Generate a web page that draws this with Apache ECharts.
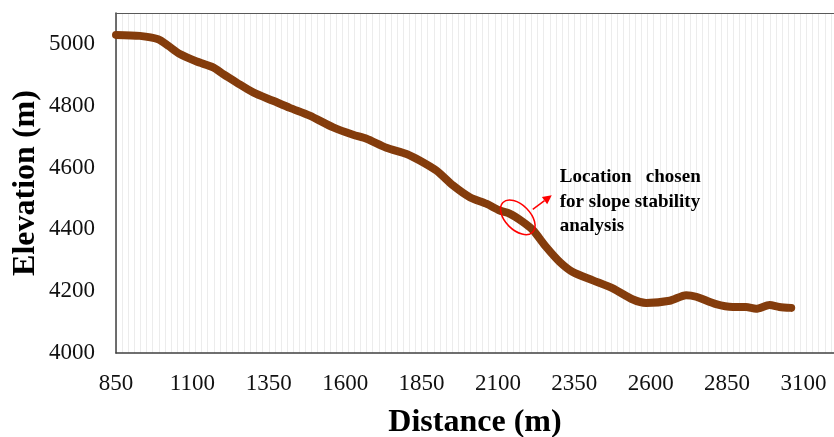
<!DOCTYPE html>
<html>
<head>
<meta charset="utf-8">
<script src="https://cdn.jsdelivr.net/npm/echarts@6/dist/echarts.min.js"></script>
<style>
html,body{margin:0;padding:0;background:#fff;}
#chart{width:834px;height:437px;}
</style>
</head>
<body>
<div id="chart"></div>
<script>
// Data
const distance = [850, 928, 988, 1021, 1059, 1114, 1168, 1201, 1245, 1299, 1364, 1419, 1484, 1561, 1626, 1670, 1735, 1801, 1844, 1899, 1953, 2008, 2062, 2106, 2138, 2182, 2215, 2258, 2302, 2345, 2411, 2476, 2542, 2585, 2662, 2716, 2749, 2814, 2869, 2912, 2945, 2989, 3021, 3060];
const elevation = [5029, 5026, 5015, 4994, 4967, 4943, 4924, 4902, 4875, 4843, 4816, 4793, 4768, 4730, 4706, 4693, 4664, 4644, 4623, 4590, 4542, 4504, 4483, 4461, 4451, 4424, 4397, 4343, 4295, 4262, 4235, 4209, 4173, 4162, 4169, 4187, 4182, 4158, 4149, 4149, 4143, 4155, 4149, 4146];
const xTickLabels = ['850', '1100', '1350', '1600', '1850', '2100', '2350', '2600', '2850', '3100'];
const yTickLabels = ['4000', '4200', '4400', '4600', '4800', '5000'];
const annotationLines = ['Location   chosen', 'for slope stability', 'analysis'];
const chosenPoint = [2165, 4439];

const chart = echarts.init(document.getElementById('chart'));
const serif = '"Liberation Serif", "Times New Roman", serif';
const xMin = Number(xTickLabels[0]);
const yMin = Number(yTickLabels[0]);

chart.setOption({
  animation: false,
  backgroundColor: '#fff',
  grid: { left: 116, right: 0, top: 13, bottom: 84, containLabel: false, outerBoundsMode: 'none' },
  xAxis: [
    {
      type: 'value', min: xMin, max: 3200, interval: 250,
      name: 'Distance (m)', nameLocation: 'middle', nameGap: 54, nameMoveOverlap: false,
      nameTextStyle: { fontFamily: serif, fontWeight: 'bold', fontSize: 32, color: '#000' },
      axisLine: { show: true, onZero: false, lineStyle: { color: '#404040', width: 1.5 } },
      axisTick: { show: false },
      splitLine: { show: false },
      axisLabel: { fontFamily: serif, fontSize: 23, color: '#111', margin: 19, showMaxLabel: false,
        formatter: v => xTickLabels.includes(String(v)) ? String(v) : '' }
    },
    {
      type: 'value', position: 'top', min: xMin, max: 3200, interval: 20,
      axisLine: { show: true, onZero: false, lineStyle: { color: '#595959', width: 1.2 } },
      axisTick: { show: false }, axisLabel: { show: false },
      splitLine: { show: true, lineStyle: { color: '#ececec', width: 1 } }
    }
  ],
  yAxis: {
    type: 'value', min: yMin, max: 5100, interval: 200,
    name: 'Elevation (m)', nameLocation: 'middle', nameGap: 74, nameRotate: 90, nameMoveOverlap: false,
    nameTextStyle: { fontFamily: serif, fontWeight: 'bold', fontSize: 32, color: '#000' },
    axisLine: { show: true, onZero: false, lineStyle: { color: '#404040', width: 1.5 } },
    axisTick: { show: false },
    splitLine: { show: false },
    axisLabel: { fontFamily: serif, fontSize: 23, color: '#111', margin: 21, showMaxLabel: false,
      formatter: v => yTickLabels.includes(String(v)) ? String(v) : '' }
  },
  series: [{
    type: 'line',
    xAxisIndex: 0,
    data: distance.map((d, i) => [d, elevation[i]]),
    showSymbol: false,
    smooth: 0.25,
    lineStyle: { color: '#843C0C', width: 8, cap: 'round', join: 'round' },
    z: 3
  }]
});

const c = chart.convertToPixel({ xAxisIndex: 0, yAxisIndex: 0 }, chosenPoint);
const tail = [c[0] + 15, c[1] - 8];
const tip = [c[0] + 34, c[1] - 22];
const ang = Math.atan2(tip[1] - tail[1], tip[0] - tail[0]);
const hl = 9, hw = 4.5;
const base = [tip[0] - hl * Math.cos(ang), tip[1] - hl * Math.sin(ang)];
const p1 = [base[0] + hw * Math.sin(ang), base[1] - hw * Math.cos(ang)];
const p2 = [base[0] - hw * Math.sin(ang), base[1] + hw * Math.cos(ang)];
const tx = c[0] + 42, ty0 = c[1] - 40;

chart.setOption({
  graphic: [
    { type: 'ellipse', x: c[0], y: c[1], rotation: -Math.PI / 4, shape: { cx: 0, cy: 0, rx: 21, ry: 12.5 },
      style: { fill: 'none', stroke: '#ff0000', lineWidth: 1.5 }, z: 10 },
    { type: 'line', shape: { x1: tail[0], y1: tail[1], x2: base[0], y2: base[1] },
      style: { stroke: '#ff0000', lineWidth: 1.5 }, z: 10 },
    { type: 'polygon', shape: { points: [tip, p1, p2] }, style: { fill: '#ff0000' }, z: 10 },
    ...annotationLines.map((t, i) => ({
      type: 'text', x: tx, y: ty0 + i * 24.5, z: 10,
      style: { text: t, font: 'bold 19px ' + serif, fill: '#000', verticalAlign: 'middle', align: 'left' }
    }))
  ]
});
</script>
</body>
</html>
